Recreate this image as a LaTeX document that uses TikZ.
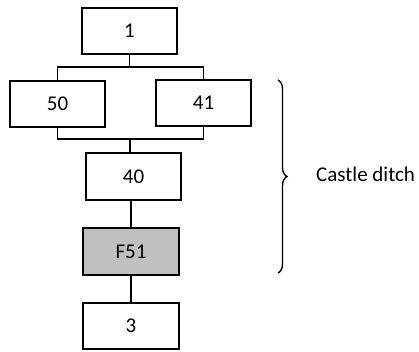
\documentclass[tikz,border=0pt]{standalone}
\usepackage{fontspec}
\setmainfont{Carlito}
\usetikzlibrary{decorations.pathreplacing}
\definecolor{fgray}{HTML}{C0C0C0}
\begin{document}
\begin{tikzpicture}[x=1pt,y=-1pt,
  box/.style={draw, line width=1.9pt, minimum width=95.5pt, minimum height=46.5pt, inner sep=0pt, font=\fontsize{21}{25}\selectfont},
  conn/.style={line width=1.9pt},
  lbl/.style={font=\fontsize{21}{25}\selectfont, inner sep=0pt}]
\useasboundingbox (0,0) rectangle (419,351);
\node[box] (n1) at (129.5,31) {1};
\node[box] (n50) at (57.5,104) {50};
\node[box] (n41) at (203.5,103) {41};
\node[box] (n40) at (133.5,176.5) {40};
\node[box, fill=fgray] (f51) at (131,251.5) {F51};
\node[box] (n3) at (131,326) {3};
\coordinate (tb) at (130,67);
\coordinate (bb) at (130,139);
\draw[conn] (n1.south) -- (n1.south |- tb);
\draw[conn] (n50.north) -- (n50.north |- tb) -- (n41.north |- tb) -- (n41.north);
\draw[conn] (n50.south) -- (n50.south |- bb) -- (n41.south |- bb) -- (n41.south);
\draw[conn] (bb) -- (bb |- n40.north);
\draw[conn] (n40.south -| f51.north) -- (f51.north);
\draw[conn] (f51.south) -- (n3.north);
\coordinate (brt) at (278,80);
\coordinate (brb) at (278,273);
\draw[line width=1.4pt, decorate, decoration={brace, amplitude=9pt}] (brt) -- (brb);
\node[lbl, anchor=west] (cd) at (316,174) {Castle ditch};
\end{tikzpicture}
\end{document}
